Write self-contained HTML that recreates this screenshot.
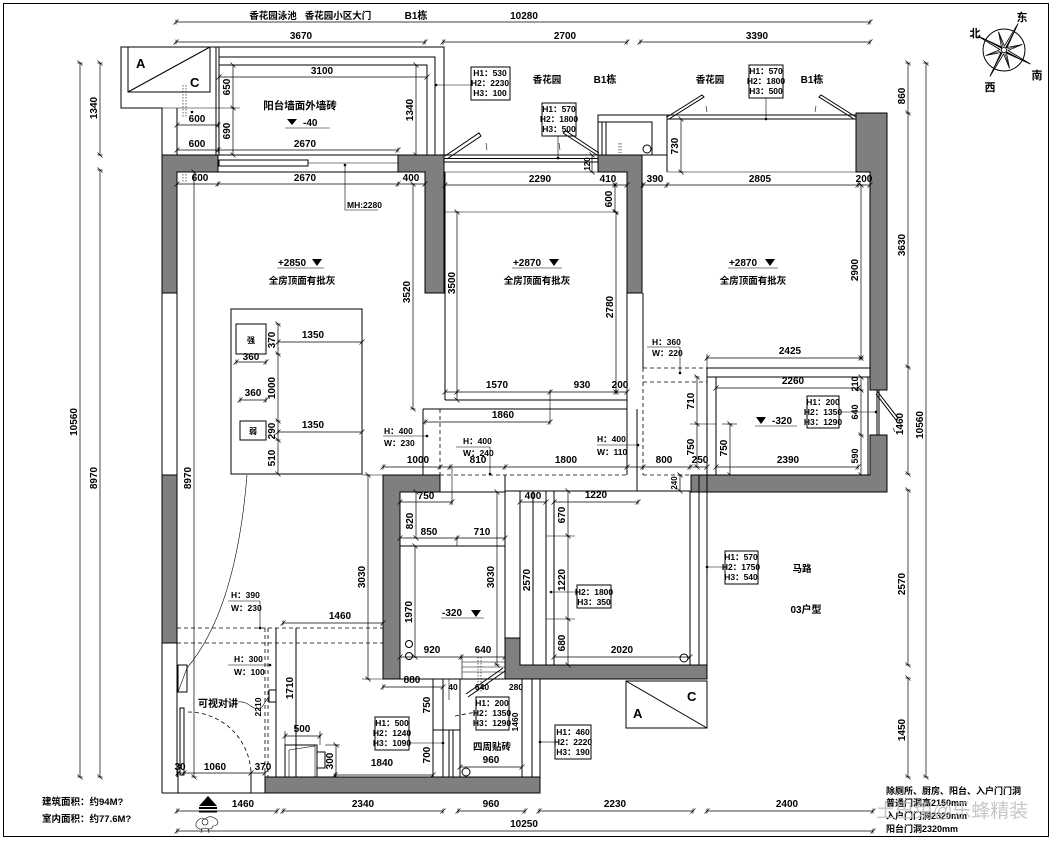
<!DOCTYPE html>
<html><head><meta charset="utf-8">
<style>
html,body{margin:0;padding:0;background:#fff;}
svg{display:block}
text{font-family:"Liberation Sans Narrow","Liberation Sans","Noto Sans CJK SC",sans-serif;font-weight:bold;font-size:10px;fill:#000}
.c{text-anchor:middle}
.z{font-family:"Liberation Sans","Noto Sans CJK SC",sans-serif;font-size:9.5px}
.s{font-size:8.5px}
.l{stroke:#000;stroke-width:1;fill:none}
.t{stroke:#000;stroke-width:0.6;fill:none}
.d{stroke:#000;stroke-width:0.7;fill:none;marker-start:url(#k);marker-mid:url(#k);marker-end:url(#k)}
.w{fill:#7f7f7f;stroke:#000;stroke-width:1}
.ds{stroke:#000;stroke-width:0.8;fill:none;stroke-dasharray:4 3}
.dt{stroke:#000;stroke-width:0.6;fill:none;stroke-dasharray:1.5 1.5}
</style></head><body>
<svg width="1056" height="843" viewBox="0 0 1056 843" xmlns="http://www.w3.org/2000/svg">
<defs><marker id="k" markerWidth="8" markerHeight="8" refX="4" refY="4" orient="auto" markerUnits="userSpaceOnUse"><path d="M1.5,6.5L6.5,1.5M4,1.5V6.5" stroke="#000" stroke-width="0.7" fill="none"/></marker></defs>
<rect x="0" y="0" width="1056" height="843" fill="#fff"/>
<rect x="3.5" y="3.5" width="1045" height="833" class="l" stroke-width="1.5"/>

<!-- top dimensions -->
<polyline class="d" points="176,22 870,22"/>
<text class="c z" x="273" y="19">香花园泳池</text>
<text class="c z" x="338" y="19">香花园小区大门</text>
<text class="c" x="416" y="19">B1栋</text>
<text class="c" x="524" y="19">10280</text>
<polyline class="d" points="176,42 425,42"/><text class="c" x="301" y="39">3670</text>
<polyline class="d" points="443,42 627,42"/><text class="c" x="565" y="39">2700</text>
<polyline class="d" points="640,42 870,42"/><text class="c" x="757" y="39">3390</text>

<!-- top-left balcony -->
<path class="l" d="M162,155V108H121V47H444V155"/>
<rect class="l" x="128" y="47" width="82" height="45"/>
<line class="l" x1="128" y1="92" x2="210" y2="47"/>
<text class="z" x="136" y="68" style="font-size:13px">A</text>
<text class="z" x="190" y="87" style="font-size:13px">C</text>
<path class="l" d="M216,47V155M219,47V155"/>
<path class="l" d="M219,57H435V155"/>
<path class="l" d="M219,65H427V155"/>
<polyline class="d" points="219,77 427,77"/><text class="c" x="322" y="74">3100</text>
<polyline class="d" points="233,65 233,108 233,155"/>
<text class="c" transform="translate(230,87) rotate(-90)">650</text>
<text class="c" transform="translate(230,131) rotate(-90)">690</text>
<line class="t" x1="162" y1="108" x2="240" y2="108"/>
<polyline class="d" points="416,65 416,155"/>
<text class="c" transform="translate(413,110) rotate(-90)">1340</text>
<polyline class="d" points="177,125 218,125"/><text class="c" x="197" y="122">600</text>
<polyline class="d" points="177,150 218,150 398,150"/>
<text class="c" x="197" y="147">600</text><text class="c" x="305" y="147">2670</text>
<line class="l" x1="177" y1="108" x2="177" y2="155"/>
<path class="dt" d="M183,85V118M186,85V118"/>
<circle cx="192" cy="112" r="1.3"/>
<text class="c z" x="300" y="109" style="font-size:10.5px">阳台墙面外墙砖</text>
<path d="M287,119H297L292,125Z"/>
<text x="303" y="126">-40</text>
<line class="t" x1="285" y1="128" x2="330" y2="128"/>
<rect class="l" x="471" y="67" width="39" height="33"/>
<text class="c s" x="490" y="76">H1：530</text>
<text class="c s" x="490" y="86">H2：2230</text>
<text class="c s" x="490" y="96">H3：100</text>
<line class="t" x1="436" y1="85" x2="471" y2="85"/><circle cx="436" cy="85" r="1.3"/>

<!-- top walls / living room -->
<path class="w" d="M162,155H218V172H177V293H162Z"/>
<path class="l" d="M218,155H398M218,172H398"/>
<rect class="l" x="219" y="160" width="89" height="6"/>
<line class="t" x1="308" y1="163" x2="398" y2="163"/>
<path class="w" d="M398,155H444V293H425V172H398Z"/>
<polyline class="d" points="177,184 218,184 398,184 425,184"/>
<text class="c" x="200" y="181">600</text><text class="c" x="305" y="181">2670</text><text class="c" x="411" y="181">400</text>
<path class="dt" d="M183,174V182M186,174V182"/>
<polyline class="d" points="194,172 194,777"/>
<text class="c" transform="translate(191,478) rotate(-90)">8970</text>
<polyline class="t" points="345,165 345,210 378,210"/><circle cx="345" cy="165" r="1.3"/>
<text class="s" x="347" y="208">MH:2280</text>
<text class="c" x="292" y="266">+2850</text>
<path d="M312,259H322L317,266Z"/>
<line class="t" x1="277" y1="268" x2="324" y2="268"/>
<text class="c z" x="302" y="284">全房顶面有批灰</text>
<polyline class="d" points="413,184 413,409"/>
<text class="c" transform="translate(410,292) rotate(-90)">3520</text>

<!-- living table -->
<rect class="l" x="231" y="309" width="131" height="165"/>
<polyline class="d" points="278,324 278,354 278,421 278,440 278,474"/>
<text class="c" transform="translate(275,340) rotate(-90)">370</text>
<text class="c" transform="translate(275,388) rotate(-90)">1000</text>
<text class="c" transform="translate(275,431) rotate(-90)">290</text>
<text class="c" transform="translate(275,458) rotate(-90)">510</text>
<polyline class="d" points="278,342 362,342"/><text class="c" x="313" y="338">1350</text>
<polyline class="d" points="278,432 362,432"/><text class="c" x="313" y="428">1350</text>
<rect class="l" x="236" y="324" width="30" height="30"/><text class="c z" x="251" y="343" style="font-size:8px">强</text>
<polyline class="d" points="236,362 266,362"/><text class="c" x="251" y="360">360</text>
<polyline class="d" points="240,400 266,400"/><text class="c" x="253" y="396">360</text>
<rect class="l" x="240" y="421" width="26" height="19"/><text class="c z" x="253" y="434" style="font-size:8px">弱</text>

<!-- bedroom 2 -->
<path class="l" d="M444,155H598M444,158.5H598M444,162H598"/>
<line class="t" x1="444" y1="172" x2="598" y2="172"/>
<path class="l" d="M445,156L479,133L481,136L447,159"/>
<line class="t" x1="486" y1="143" x2="487" y2="150"/>
<rect class="l" x="542" y="103" width="34" height="33"/>
<text class="c s" x="559" y="112">H1：570</text>
<text class="c s" x="559" y="122">H2：1800</text>
<text class="c s" x="559" y="132">H3：500</text>
<line class="t" x1="558" y1="136" x2="558" y2="158"/><circle cx="558" cy="158" r="1.3"/>
<path class="l" d="M563,133L597,155M566,131L599,153M563,133L566,131"/>
<line class="t" x1="559" y1="143" x2="560" y2="150"/>
<path class="w" d="M598,155H642V293H627V172H598Z"/>
<polyline class="d" points="592,155 592,172"/>
<text class="c" transform="translate(590,164) rotate(-90)" style="font-size:8px">120</text>
<polyline class="d" points="445,185 615,185 627,185"/>
<text class="c" x="540" y="182">2290</text><text class="c" x="608" y="182">410</text>
<polyline class="d" points="615,185 615,212"/>
<text class="c" transform="translate(612,199) rotate(-90)">600</text>
<line class="t" x1="445" y1="212" x2="615" y2="212"/>
<polyline class="d" points="457,212 457,400"/>
<text class="c" transform="translate(455,283) rotate(-90)">3500</text>
<polyline class="d" points="616,212 616,392"/>
<text class="c" transform="translate(613,307) rotate(-90)">2780</text>
<line class="l" x1="445" y1="172" x2="445" y2="400"/>
<line class="l" x1="445" y1="400" x2="627" y2="400"/>
<polyline class="d" points="445,392 457,392 550,392 616,392 627,392"/>
<text class="c" x="497" y="388">1570</text><text class="c" x="582" y="388">930</text><text class="c" x="620" y="388">200</text>
<text class="c" x="527" y="266">+2870</text>
<path d="M549,259H559L554,266Z"/>
<line class="t" x1="512" y1="268" x2="562" y2="268"/>
<text class="c z" x="537" y="284">全房顶面有批灰</text>
<line class="t" x1="550" y1="392" x2="550" y2="422"/>
<line class="l" x1="423" y1="409" x2="627" y2="409"/>
<polyline class="d" points="425,422 550,422"/><text class="c" x="503" y="418">1860</text>
<line class="l" x1="627" y1="293" x2="627" y2="475"/>
<line class="l" x1="637" y1="409" x2="637" y2="491"/>
<line class="l" x1="643" y1="293" x2="643" y2="368"/>
<line class="l" x1="423" y1="409" x2="423" y2="475"/>

<!-- bedroom 3 -->
<path class="w" d="M856,113H887V390H870V172H856Z"/>
<rect class="l" x="598" y="115" width="69" height="40"/>
<path class="l" d="M598,122H652V155M602,122V155M606,122V155"/>
<circle class="l" cx="647" cy="149" r="4"/>
<path class="dt" d="M619,143V153M621,143V153"/>
<path class="l" d="M667,115H856M667,119H856M667,115V172"/>
<line class="t" x1="667" y1="172" x2="856" y2="172"/>
<path class="l" d="M667,117L702,95L704,97L669,119"/>
<path class="l" d="M856,117L821,95L819,97L854,119"/>
<line class="t" x1="706" y1="106" x2="707" y2="112"/>
<line class="t" x1="816" y1="106" x2="815" y2="112"/>
<rect class="l" x="749" y="65" width="34" height="33"/>
<text class="c s" x="766" y="74">H1：570</text>
<text class="c s" x="766" y="84">H2：1800</text>
<text class="c s" x="766" y="94">H3：500</text>
<line class="t" x1="766" y1="98" x2="766" y2="119"/><circle cx="766" cy="119" r="1.3"/>
<polyline class="d" points="681,119 681,172"/>
<text class="c" transform="translate(678,146) rotate(-90)">730</text>
<text class="c z" x="547" y="83">香花园</text>
<text class="c" x="605" y="83">B1栋</text>
<text class="c z" x="710" y="83">香花园</text>
<text class="c" x="812" y="83">B1栋</text>
<polyline class="d" points="643,185 667,185 858,185 870,185"/>
<text class="c" x="655" y="182">390</text><text class="c" x="760" y="182">2805</text><text class="c" x="864" y="182">200</text>
<polyline class="d" points="861,185 861,358"/>
<text class="c" transform="translate(858,270) rotate(-90)">2900</text>
<text class="c" x="743" y="266">+2870</text>
<path d="M765,259H775L770,266Z"/>
<line class="t" x1="728" y1="268" x2="778" y2="268"/>
<text class="c z" x="753" y="284">全房顶面有批灰</text>
<polyline class="d" points="707,358 861,358"/><text class="c" x="790" y="354">2425</text>
<line class="t" x1="707" y1="354" x2="707" y2="368"/>
<line class="l" x1="707" y1="368" x2="870" y2="368"/>
<line class="ds" x1="643" y1="368" x2="707" y2="368"/>
<line class="ds" x1="643" y1="382" x2="707" y2="382"/>
<text class="s" x="652" y="345">H：360</text>
<text class="s" x="652" y="356">W：220</text>
<polyline class="t" points="647,347 680,347 680,373"/><circle cx="680" cy="373" r="1.3"/>

<!-- right bath -->
<line class="l" x1="707" y1="368" x2="707" y2="475"/>
<line class="l" x1="716" y1="377" x2="716" y2="475"/>
<line class="l" x1="707" y1="377" x2="870" y2="377"/>
<polyline class="d" points="716,388 858,388"/><text class="c" x="793" y="384">2260</text>
<line class="l" x1="868" y1="377" x2="868" y2="475"/>
<polyline class="d" points="861,377 861,390 861,435 861,475"/>
<text class="c" transform="translate(858,384) rotate(-90)" style="font-size:9px">210</text>
<text class="c" transform="translate(858,412) rotate(-90)" style="font-size:9px">640</text>
<text class="c" transform="translate(858,456) rotate(-90)" style="font-size:9px">590</text>
<polyline class="d" points="697,377 697,424 697,467"/>
<text class="c" transform="translate(694,401) rotate(-90)">710</text>
<text class="c" transform="translate(694,447) rotate(-90)">750</text>
<line class="t" x1="690" y1="424" x2="716" y2="424"/>
<polyline class="d" points="730,424 730,475"/>
<text class="c" transform="translate(727,448) rotate(-90)">750</text>
<line class="t" x1="722" y1="424" x2="737" y2="424"/>
<path d="M756,417H766L761,424Z"/>
<text x="772" y="424">-320</text>
<line class="t" x1="755" y1="426" x2="797" y2="426"/>
<rect class="l" x="807" y="396" width="32" height="32"/>
<text class="c s" x="823" y="405">H1：200</text>
<text class="c s" x="823" y="415">H2：1350</text>
<text class="c s" x="823" y="425">H3：1290</text>
<line class="t" x1="839" y1="412" x2="876" y2="412"/><circle cx="876" cy="412" r="1.3"/>
<path class="l" d="M870,390H887M870,435H887M877,390V435M879,390V435"/>
<path class="l" d="M877,391L898,418L896,420L876,394"/>
<line class="t" x1="893" y1="428" x2="895" y2="432"/>
<path class="w" d="M870,435H887V492H691V475H870Z"/>
<polyline class="d" points="716,467 858,467"/><text class="c" x="788" y="463">2390</text>

<!-- corridor -->
<line class="ds" x1="440" y1="409" x2="440" y2="475"/>
<line class="ds" x1="440" y1="475" x2="627" y2="475"/>
<line class="ds" x1="643" y1="475" x2="691" y2="475"/>
<line class="ds" x1="643" y1="368" x2="643" y2="475"/>
<polyline class="d" points="383,467 440,467 450,467 505,467 627,467 643,467 690,467 707,467"/>
<text class="c" x="418" y="463">1000</text><text class="c" x="478" y="463">810</text><text class="c" x="566" y="463">1800</text>
<text class="c" x="664" y="463">800</text><text class="c" x="700" y="463">250</text>
<text class="s" x="384" y="434">H：400</text>
<polyline class="t" points="383,436 427,436"/><circle cx="427" cy="436" r="1.3"/>
<text class="s" x="384" y="446">W：230</text>
<text class="s" x="463" y="444">H：400</text>
<polyline class="t" points="456,447 490,447 490,474"/><circle cx="490" cy="474" r="1.3"/>
<text class="s" x="463" y="456">W：240</text>
<text class="s" x="597" y="442">H：400</text>
<polyline class="t" points="597,445 638,445"/><circle cx="638" cy="445" r="1.3"/>
<text class="s" x="597" y="455">W：110</text>

<!-- left bath -->
<path class="w" d="M383,475H440V492H400V679H383Z"/>
<line class="l" x1="505" y1="475" x2="505" y2="638"/>
<line class="l" x1="400" y1="492" x2="505" y2="492"/>
<polyline class="d" points="400,502 452,502"/><text class="c" x="426" y="499">750</text>
<line class="t" x1="452" y1="467" x2="452" y2="505"/>
<polyline class="d" points="416,492 416,538"/>
<text class="c" transform="translate(413,521) rotate(-90)">820</text>
<polyline class="d" points="400,538 457,538 505,538"/>
<line class="l" x1="400" y1="546" x2="505" y2="546"/>
<text class="c" x="429" y="535">850</text><text class="c" x="482" y="535">710</text>
<line class="t" x1="457" y1="538" x2="457" y2="546"/>
<polyline class="d" points="415,546 415,657"/>
<text class="c" transform="translate(412,612) rotate(-90)">1970</text>
<polyline class="d" points="497,492 497,665"/>
<text class="c" transform="translate(494,577) rotate(-90)">3030</text>
<polyline class="d" points="368,475 368,679"/>
<text class="c" transform="translate(365,577) rotate(-90)">3030</text>
<path class="t" d="M362,475H383M362,679H383"/>
<text x="442" y="616">-320</text>
<path d="M471,610H481L476,617Z"/>
<line class="t" x1="441" y1="618" x2="484" y2="618"/>
<circle class="l" cx="409" cy="644" r="3.5"/>
<circle class="l" cx="409" cy="656" r="3.5"/>
<polyline class="d" points="400,657 461,657 505,657"/>
<text class="c" x="432" y="653">920</text><text class="c" x="483" y="653">640</text>
<path class="t" d="M462,662H505M462,667H505M462,672H505M462,657V679"/>
<path class="dt" d="M478,657V692M481,657V692"/>
<path class="l" d="M468,697L505,671M466,694L503,668"/>
<line class="l" x1="383" y1="679" x2="505" y2="679"/>
<polyline class="d" points="383,687 443,687"/><text class="c" x="412" y="683">880</text>
<text class="c s" x="453" y="690">40</text><text class="c s" x="482" y="690">640</text><text class="c s" x="516" y="690">280</text>
<line class="t" x1="449" y1="679" x2="449" y2="700"/>

<!-- kitchen -->
<path class="w" d="M505,638H520V665H707V679H505Z"/>
<line class="l" x1="505" y1="491" x2="690" y2="491"/>
<path class="l" d="M520,491V638M533,491V665M546,491V665M554,491V665"/>
<polyline class="d" points="520,502 546,502"/><text class="c" x="533" y="499">400</text>
<polyline class="d" points="554,502 638,502"/><text class="c" x="596" y="498">1220</text>
<text class="c" transform="translate(530,580) rotate(-90)">2570</text>
<polyline class="d" points="568,491 568,536 568,619 568,665"/>
<text class="c" transform="translate(565,515) rotate(-90)">670</text>
<text class="c" transform="translate(565,580) rotate(-90)">1220</text>
<text class="c" transform="translate(565,643) rotate(-90)">680</text>
<path class="t" d="M546,536H575M546,619H575"/>
<rect class="l" x="577" y="585" width="34" height="23"/>
<text class="c s" x="594" y="595">H2：1800</text>
<text class="c s" x="594" y="605">H3：350</text>
<line class="t" x1="551" y1="592" x2="577" y2="592"/><circle cx="551" cy="592" r="1.3"/>
<polyline class="d" points="554,657 690,657"/><text class="c" x="622" y="653">2020</text>
<circle class="l" cx="684" cy="658" r="4"/>
<path class="l" d="M690,491V665M699,475V665M707,475V665"/>
<rect class="l" x="725" y="551" width="33" height="33"/>
<text class="c s" x="741" y="560">H1：570</text>
<text class="c s" x="741" y="570">H2：1750</text>
<text class="c s" x="741" y="580">H3：540</text>
<line class="t" x1="707" y1="567" x2="725" y2="567"/><circle cx="707" cy="567" r="1.3"/>
<polyline class="d" points="680,475 680,491"/>
<text class="c" transform="translate(677,483) rotate(-90)" style="font-size:8px">240</text>
<text class="c z" x="802" y="572">马路</text>
<text class="c" x="806" y="613">03户型</text>

<!-- lower middle -->
<path class="l" d="M433,679V777M443,679V777M449,730V777M453,730V777M460,679V777M433,730H460"/>
<text class="c" transform="translate(430,705) rotate(-90)">750</text>
<text class="c" transform="translate(430,755) rotate(-90)">700</text>
<path class="l" d="M522,679V777M532,679V777M540,679V793"/>
<text class="c z" x="492" y="750">四周贴砖</text>
<polyline class="d" points="460,767 522,767"/><text class="c" x="491" y="763">960</text>
<circle class="l" cx="466" cy="772" r="4"/>
<rect class="l" x="476" y="697" width="33" height="33"/>
<text class="c s" x="492" y="706">H1：200</text>
<text class="c s" x="492" y="716">H2：1350</text>
<text class="c s" x="492" y="726">H3：1290</text>
<line class="ds" x1="455" y1="716" x2="476" y2="712"/>
<text class="c s" transform="translate(518,722) rotate(-90)">1460</text>
<rect class="l" x="375" y="717" width="34" height="33"/>
<text class="c s" x="392" y="726">H1：500</text>
<text class="c s" x="392" y="736">H2：1240</text>
<text class="c s" x="392" y="746">H3：1090</text>
<line class="t" x1="409" y1="743" x2="443" y2="743"/><circle cx="443" cy="743" r="1.3"/>
<polyline class="d" points="335,775 433,775"/><text class="c" x="382" y="766">1840</text>
<path class="l" d="M285,777V745H317V777"/>
<path class="t" d="M289,777V750L315,746V777"/>
<rect class="l" x="317" y="752" width="8" height="16"/>
<polyline class="d" points="285,736 320,736"/><text class="c" x="302" y="732">500</text>
<path class="t" d="M285,731V745M320,731V745"/>
<polyline class="d" points="336,745 336,777"/>
<text class="c" transform="translate(333,761) rotate(-90)">300</text>
<line class="t" x1="325" y1="745" x2="340" y2="745"/>

<!-- entry left -->
<path class="w" d="M162,475H177V643H162Z"/>
<path class="l" d="M162,155V793M177,293V475M177,643V777"/>
<line class="ds" x1="177" y1="628" x2="383" y2="628"/>
<line class="ds" x1="177" y1="643" x2="383" y2="643"/>
<line class="ds" x1="265" y1="628" x2="265" y2="777"/>
<line class="ds" x1="268" y1="628" x2="268" y2="777"/>
<path class="l" d="M276,628V777M296,628V777"/>
<polyline class="d" points="283,623 383,623"/><text class="c" x="340" y="619">1460</text>
<text class="s" x="231" y="598">H：390</text>
<polyline class="t" points="228,601 260,601 260,628"/><circle cx="260" cy="628" r="1.3"/>
<text class="s" x="231" y="611">W：230</text>
<text class="s" x="234" y="662">H：300</text>
<polyline class="t" points="228,665 270,665"/><circle cx="270" cy="665" r="1.3"/>
<text class="s" x="234" y="675">W：100</text>
<text class="c" transform="translate(293,688) rotate(-90)">1710</text>
<rect class="l" x="269" y="690" width="7" height="12"/>
<text class="z" x="198" y="707" style="font-size:10px">可视对讲</text>
<path class="t" d="M238,702C250,700 252,713 262,707L269,696"/>
<text class="c s" transform="translate(261,707) rotate(-90)">2210</text>
<rect class="l" x="178" y="665" width="9" height="27"/>
<line class="t" x1="178" y1="692" x2="187" y2="668"/>
<path class="t" d="M247,475Q236,610 187,668"/>
<rect class="l" x="180" y="708" width="4" height="67"/>
<path class="ds" d="M188,712A63,63 0 0 1 251,775"/>
<polyline class="d" points="178,773 184,773 251,773 265,773"/>
<text class="c" x="180" y="770">30</text><text class="c" x="215" y="770">1060</text><text class="c" x="263" y="770">370</text>
<path class="l" d="M178,773V793M251,773V793"/>
<line class="l" x1="162" y1="793" x2="265" y2="793"/>
<path class="w" d="M265,777H540V793H265Z"/>

<!-- entry symbol -->
<path d="M199,806L208,796L217,806Z"/>
<rect x="199" y="807" width="18" height="2"/>
<rect x="199" y="810.5" width="18" height="2"/>
<path class="t" d="M196,823q3,-6 9,-4q6,-5 12,1q3,5 -4,6q-2,5 -8,2q-6,3 -9,-2z"/>
<circle class="t" cx="205" cy="822" r="3"/>
<path class="t" d="M202,828l-1,5M208,828l1,5"/>

<!-- bottom dims -->
<polyline class="d" points="177,811 277,811"/><text class="c" x="243" y="807">1460</text>
<polyline class="d" points="283,811 443,811"/><text class="c" x="363" y="807">2340</text>
<polyline class="d" points="458,811 525,811"/><text class="c" x="491" y="807">960</text>
<polyline class="d" points="539,811 693,811"/><text class="c" x="615" y="807">2230</text>
<polyline class="d" points="707,811 873,811"/><text class="c" x="787" y="807">2400</text>
<polyline class="d" points="177,831 873,831"/><text class="c" x="524" y="827">10250</text>

<!-- A/C bottom -->
<rect class="l" x="626" y="681" width="81" height="47"/>
<line class="l" x1="626" y1="681" x2="707" y2="728"/>
<text class="z" x="633" y="718" style="font-size:13px">A</text>
<text class="z" x="687" y="701" style="font-size:13px">C</text>
<rect class="l" x="555" y="725" width="36" height="34"/>
<text class="c s" x="573" y="735">H1：460</text>
<text class="c s" x="573" y="745">H2：2220</text>
<text class="c s" x="573" y="755">H3：190</text>
<line class="t" x1="540" y1="742" x2="555" y2="742"/><circle cx="540" cy="742" r="1.3"/>

<!-- right dims -->
<polyline class="d" points="908,63 908,113 908,367 908,474"/>
<polyline class="d" points="908,490 908,665"/>
<polyline class="d" points="908,678 908,777"/>
<text class="c" transform="translate(905,96) rotate(-90)">860</text>
<text class="c" transform="translate(905,245) rotate(-90)">3630</text>
<text class="c" transform="translate(903,424) rotate(-90)">1460</text>
<text class="c" transform="translate(905,584) rotate(-90)">2570</text>
<text class="c" transform="translate(905,730) rotate(-90)">1450</text>
<polyline class="d" points="926,63 926,777"/>
<text class="c" transform="translate(923,425) rotate(-90)">10560</text>

<!-- left dims -->
<polyline class="d" points="80,63 80,777"/>
<text class="c" transform="translate(77,422) rotate(-90)">10560</text>
<polyline class="d" points="100,63 100,155"/>
<text class="c" transform="translate(97,108) rotate(-90)">1340</text>
<polyline class="d" points="100,170 100,777"/>
<text class="c" transform="translate(97,478) rotate(-90)">8970</text>

<!-- compass -->
<circle class="l" cx="1004" cy="50" r="21"/>
<polygon points="1018.1,23.5 1007.1,47.5 1022.2,44.5 1008,50.4 1030.5,64.1 1006.5,53.1 1009.5,68.2 1003.6,54 989.9,76.5 1000.9,52.5 985.8,55.5 1000,49.6 977.5,35.9 1001.5,46.9 998.5,31.8 1004.4,46" fill="#fff" stroke="#000" stroke-width="0.8"/>
<path d="M1004,50L1018.1,23.5L1007.1,47.5ZM1004,50L1030.5,64.1L1006.5,53.1ZM1004,50L989.9,76.5L1000.9,52.5ZM1004,50L977.5,35.9L1001.5,46.9Z"/>
<path class="t" d="M1004,50L1022.2,44.5M1004,50L1009.5,68.2M1004,50L985.8,55.5M1004,50L998.5,31.8"/>
<circle cx="1004" cy="50" r="2.5" fill="#fff" stroke="#000" stroke-width="0.7"/>
<text class="c z" x="975" y="37" style="font-size:11px">北</text>
<text class="c z" x="1022" y="21" style="font-size:11px">东</text>
<text class="c z" x="1037" y="79" style="font-size:11px">南</text>
<text class="c z" x="990" y="91" style="font-size:11px">西</text>

<!-- notes -->
<text class="z" x="42" y="805">建筑面积：约94M?</text>
<text class="z" x="42" y="822">室内面积：约77.6M?</text>
<text class="z" x="886" y="794" style="font-size:9px">除厕所、厨房、阳台、入户门门洞</text>
<text class="z" x="886" y="806" style="font-size:9px">普通门洞高2150mm</text>
<text class="z" x="886" y="819" style="font-size:9px">入户门门洞2320mm</text>
<text class="z" x="886" y="832" style="font-size:9px">阳台门洞2320mm</text>
<text x="876" y="817" style="font-family:'Liberation Sans','Noto Sans CJK SC',sans-serif;font-weight:normal;font-size:19px;fill:#bdbdbd;opacity:0.85">土巴兔@乐蜂精装</text>
</svg>
</body></html>
